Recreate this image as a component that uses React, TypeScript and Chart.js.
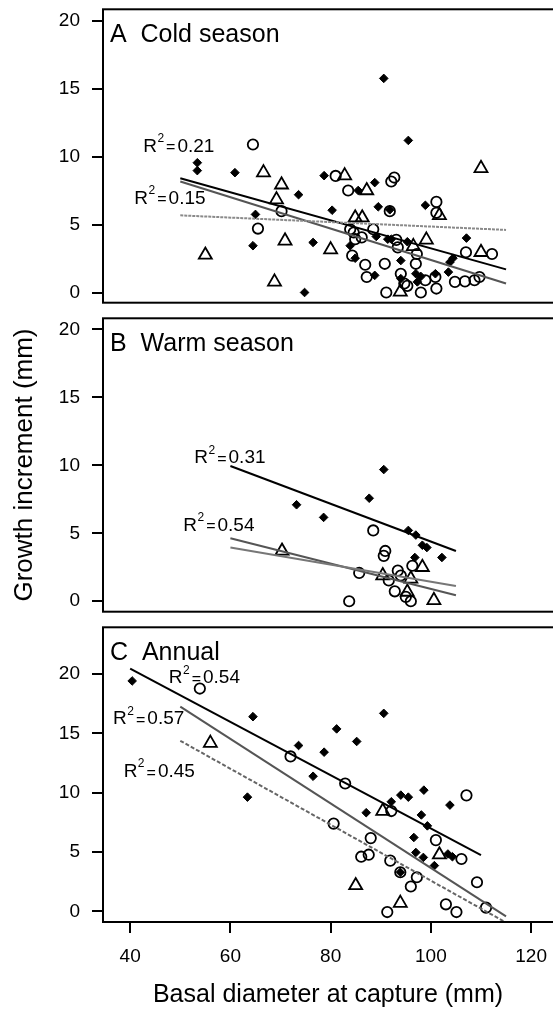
import React, { useEffect, useRef } from 'react';
import { Chart, registerables } from 'chart.js';

Chart.register(...registerables);

const FONT = '"Liberation Sans", Arial, Helvetica, sans-serif';

// ---- axes ----
const xTicks = [40, 60, 80, 100, 120];
const yTicks = [0, 5, 10, 15, 20];
const xRange = [34.58, 131.89];
const xTitle = 'Basal diameter at capture (mm)';
const yTitle = 'Growth increment (mm)';

// ---- Panel A: cold season ----
const coldDiamonds = [
  [53.4, 9.56], [53.4, 8.98], [60.9, 8.83], [65.0, 5.76], [64.5, 3.46], [73.6, 7.21],
  [74.8, 0.02], [76.5, 3.7], [80.3, 6.07], [78.7, 8.61], [85.5, 7.52], [88.8, 8.1],
  [89.5, 6.32], [91.8, 6.1], [90.6, 15.76], [95.5, 11.2], [98.9, 6.43], [107.1, 4.02],
  [89.1, 4.14], [83.9, 3.46], [84.9, 2.54], [88.8, 1.28], [91.4, 3.94], [92.1, 3.94],
  [94.0, 2.37], [95.3, 3.75], [94.0, 1.04], [97.0, 1.4], [97.3, 0.8], [98.0, 1.2],
  [100.9, 1.4], [103.8, 2.25], [104.4, 2.54], [103.5, 1.52],
];
const coldCircles = [
  [64.5, 10.9], [65.5, 4.72], [70.2, 6.0], [81.0, 8.59], [83.5, 7.52], [92.1, 8.18],
  [92.7, 8.47], [91.8, 6.0], [101.1, 6.68], [101.1, 5.88], [83.9, 4.67], [88.5, 4.67],
  [84.6, 4.43], [84.9, 3.94], [86.2, 4.07], [84.3, 2.73], [86.9, 2.06], [87.2, 1.16],
  [90.8, 2.13], [93.1, 3.89], [93.4, 3.34], [97.2, 2.85], [97.0, 2.13], [94.0, 1.4],
  [94.7, 0.68], [95.3, 0.51], [91.1, 0.02], [98.0, 0.02], [98.9, 0.92], [100.9, 1.16],
  [101.1, 0.31], [104.8, 0.8], [106.8, 0.84], [108.7, 0.92], [109.7, 1.16], [107.0, 2.98],
  [112.2, 2.85],
];
const coldTriangles = [
  [55.0, 2.78], [66.6, 8.83], [68.8, 0.8], [70.2, 7.94], [69.2, 6.85], [70.9, 3.82],
  [80.0, 3.17], [82.8, 8.61], [87.2, 7.52], [110.0, 9.15], [101.7, 5.69], [84.9, 5.52],
  [86.3, 5.52], [96.5, 3.41], [99.1, 3.89], [93.9, 0.07], [110.0, 2.98],
];
const coldLineDiamond = [[50, 8.42], [115, 1.72]];
const coldLineCircle = [[50, 8.18], [115, 0.68]];
const coldLineTriangle = [[50, 5.69], [115, 4.62]];
const coldLabelX = [42.6, 40.84];
const coldLabelY = [10.75, 6.93];
const coldLabelText = ['0.21', '0.15'];

// ---- Panel B: warm season ----
const warmDiamonds = [
  [73.2, 7.1], [78.6, 6.17], [87.7, 7.58], [90.6, 9.69], [95.5, 5.21], [97.0, 4.87],
  [98.3, 4.12], [99.2, 3.95], [102.2, 3.22], [96.8, 3.22],
];
const warmCircles = [
  [88.5, 5.21], [90.9, 3.7], [90.6, 3.34], [85.7, 2.08], [83.7, 0.0], [93.4, 2.25],
  [94.0, 1.89], [91.6, 1.53], [92.8, 0.73], [95.0, 0.32], [96.0, 0.0], [96.3, 2.61],
];
const warmTriangles = [
  [70.3, 3.7], [90.4, 1.89], [98.3, 2.5], [96.0, 1.65], [95.3, 0.68], [100.6, 0.07],
];
const warmLineDiamond = [[60, 9.95], [105, 3.7]];
const warmLineCircle = [[60, 4.63], [105, 0.44]];
const warmLineTriangle = [[60, 3.95], [105, 1.12]];
const warmLabelX = [52.8, 50.6];
const warmLabelY = [10.54, 5.58];
const warmLabelText = ['0.31', '0.54'];

// ---- Panel C: annual ----
const annualDiamonds = [
  [40.4, 19.41], [64.5, 16.4], [63.4, 9.62], [73.6, 13.97], [78.7, 13.41], [81.2, 15.37],
  [85.2, 14.31], [90.6, 16.68], [76.5, 11.38], [87.1, 8.31], [92.1, 9.23], [94.0, 9.79],
  [95.5, 9.62], [98.6, 10.21], [98.1, 8.12], [99.3, 7.2], [103.8, 8.95], [96.6, 6.22],
  [97.0, 4.96], [98.5, 4.54], [100.7, 3.85], [103.4, 4.83], [104.3, 4.6], [93.9, 3.29],
];
const annualCircles = [
  [53.9, 18.77], [72.0, 13.05], [82.9, 10.77], [80.6, 7.39], [88.0, 6.17], [86.1, 4.6],
  [87.6, 4.77], [91.9, 4.27], [92.1, 8.45], [93.9, 3.29], [97.2, 2.87], [96.0, 2.09],
  [101.0, 6.0], [106.1, 4.41], [107.1, 9.77], [109.2, 2.45], [103.0, 0.59], [105.1, -0.06],
  [111.0, 0.31], [91.3, -0.06],
];
const annualTriangles = [
  [56.0, 14.17], [90.4, 8.45], [101.7, 4.77], [85.0, 2.18], [93.9, 0.69],
];
const annualLineDiamond = [[40, 20.45], [110, 4.74]];
const annualLineCircle = [[50, 17.24], [115, -0.42]];
const annualLineTriangle = [[50, 14.37], [115, -0.95]];
const annualLabelX = [47.7, 36.6, 38.7];
const annualLabelY = [19.68, 16.19, 11.77];
const annualLabelText = ['0.54', '0.57', '0.45'];

const toXY = (arr: number[][]) => arr.map(([x, y]) => ({ x, y }));
const toLabels = (xs: number[], ys: number[], ts: string[]) =>
  xs.map((x, i) => ({ x, y: ys[i], text: ts[i] }));

const panels = [
  {
    key: 'A', title: 'A  Cold season', top: 0, height: 312, yMin: -0.73, yMax: 20.84,
    diamonds: coldDiamonds, circles: coldCircles, triangles: coldTriangles,
    lines: [
      { pts: coldLineTriangle, color: '#8a8a8a', dash: [3, 1] },
      { pts: coldLineCircle, color: '#555555', dash: [] },
      { pts: coldLineDiamond, color: '#000000', dash: [] },
    ],
    labels: toLabels(coldLabelX, coldLabelY, coldLabelText),
    showX: false, showYTitle: false,
  },
  {
    key: 'B', title: 'B  Warm season', top: 309, height: 312, yMin: -0.77, yMax: 20.82,
    diamonds: warmDiamonds, circles: warmCircles, triangles: warmTriangles,
    lines: [
      { pts: warmLineTriangle, color: '#777777', dash: [] },
      { pts: warmLineCircle, color: '#555555', dash: [] },
      { pts: warmLineDiamond, color: '#000000', dash: [] },
    ],
    labels: toLabels(warmLabelX, warmLabelY, warmLabelText),
    showX: false, showYTitle: true,
  },
  {
    key: 'C', title: 'C  Annual', top: 618, height: 393, yMin: -0.9, yMax: 23.93,
    diamonds: annualDiamonds, circles: annualCircles, triangles: annualTriangles,
    lines: [
      { pts: annualLineTriangle, color: '#666666', dash: [4, 2] },
      { pts: annualLineCircle, color: '#555555', dash: [] },
      { pts: annualLineDiamond, color: '#000000', dash: [] },
    ],
    labels: toLabels(annualLabelX, annualLabelY, annualLabelText),
    showX: true, showYTitle: false,
  },
];

const CANVAS_W = 600;
const VIEW_W = 553;

const decorPlugin = {
  id: 'decor',
  afterDatasetsDraw(chart: any, _args: any, opts: any) {
    const { ctx, chartArea: a, scales } = chart;
    ctx.save();
    ctx.strokeStyle = '#000';
    ctx.lineWidth = 2;
    ctx.strokeRect(a.left, a.top, a.right - a.left, a.bottom - a.top);
    ctx.fillStyle = '#000';
    ctx.textAlign = 'left';
    ctx.textBaseline = 'alphabetic';
    ctx.font = `25px ${FONT}`;
    ctx.fillText(opts.title, a.left + 7, a.top + 33);
    for (const l of opts.labels) {
      const px = scales.x.getPixelForValue(l.x);
      const py = scales.y.getPixelForValue(l.y);
      ctx.textAlign = 'left';
      ctx.textBaseline = 'middle';
      ctx.font = `19px ${FONT}`;
      ctx.fillText('R', px, py);
      let cx = px + ctx.measureText('R').width + 0.5;
      ctx.font = `12px ${FONT}`;
      ctx.fillText('2', cx, py - 7.5);
      cx += ctx.measureText('2').width + 2;
      ctx.font = `16px ${FONT}`;
      ctx.fillText('=', cx, py + 1.5);
      cx += ctx.measureText('=').width + 2;
      ctx.font = `19px ${FONT}`;
      ctx.fillText(l.text, cx, py);
    }
    if (opts.showX) {
      ctx.font = `25px ${FONT}`;
      ctx.textAlign = 'center';
      ctx.textBaseline = 'middle';
      ctx.fillText(xTitle, (a.left + VIEW_W) / 2, chart.height - 16);
    }
    ctx.restore();
  },
};

function Panel({ p }: { p: any }) {
  const ref = useRef<HTMLCanvasElement | null>(null);
  useEffect(() => {
    if (!ref.current) return;
    const datasets: any[] = [
      ...p.lines.map((l: any) => ({
        data: toXY(l.pts),
        showLine: true,
        borderColor: l.color,
        borderWidth: 2,
        borderDash: l.dash,
        pointRadius: 0,
        fill: false,
      })),
      {
        data: toXY(p.triangles), pointStyle: 'triangle', pointRadius: 7.5,
        borderColor: '#000', borderWidth: 1.8, backgroundColor: 'rgba(0,0,0,0)',
      },
      {
        data: toXY(p.circles), pointStyle: 'circle', pointRadius: 5.2,
        borderColor: '#000', borderWidth: 1.8, backgroundColor: 'rgba(0,0,0,0)',
      },
      {
        data: toXY(p.diamonds), pointStyle: 'rectRot', pointRadius: 4.3,
        borderColor: '#000', borderWidth: 1, backgroundColor: '#000',
      },
    ];
    const chart = new Chart(ref.current, {
      type: 'scatter',
      data: { datasets },
      plugins: [decorPlugin],
      options: {
        animation: false,
        responsive: false,
        events: [],
        layout: { padding: { top: 7, bottom: p.showX ? 0 : 8, left: 0, right: 0 } },
        plugins: {
          legend: { display: false },
          tooltip: { enabled: false },
          decor: { title: p.title, labels: p.labels, showX: p.showX },
        } as any,
        scales: {
          x: {
            type: 'linear',
            min: xRange[0],
            max: xRange[1],
            display: p.showX,
            afterBuildTicks: (ax: any) => { ax.ticks = xTicks.map((v) => ({ value: v })); },
            afterFit: (ax: any) => {
              if (p.showX) ax.height = 89;
              ax.paddingLeft = 0;
              ax.paddingRight = 0;
            },
            ticks: { font: { family: FONT, size: 19 }, color: '#000', padding: 12, maxRotation: 0, autoSkip: false },
            grid: { drawOnChartArea: false, drawTicks: true, tickLength: 11, color: '#000', lineWidth: 2 },
            border: { display: false },
            title: { display: false },
          },
          y: {
            type: 'linear',
            min: p.yMin,
            max: p.yMax,
            afterBuildTicks: (ax: any) => { ax.ticks = yTicks.map((v) => ({ value: v })); },
            afterFit: (ax: any) => {
              ax.width = 103;
              ax.paddingTop = 0;
              ax.paddingBottom = 0;
            },
            ticks: { font: { family: FONT, size: 19 }, color: '#000', padding: 12 },
            grid: { drawOnChartArea: false, drawTicks: true, tickLength: 11, color: '#000', lineWidth: 2 },
            border: { display: false },
            title: {
              display: p.showYTitle, text: yTitle, color: '#000',
              font: { family: FONT, size: 26 }, padding: { top: 9, bottom: 0 },
            },
          },
        },
      } as any,
    });
    return () => chart.destroy();
  }, [p]);
  return (
    <canvas
      ref={ref}
      width={CANVAS_W}
      height={p.height}
      style={{ position: 'absolute', left: 0, top: p.top, width: CANVAS_W, height: p.height }}
    />
  );
}

export default function App() {
  return (
    <div
      style={{
        position: 'absolute', left: 0, top: 0, width: VIEW_W, height: 1011,
        overflow: 'hidden', background: '#fff',
      }}
    >
      {panels.map((p) => (
        <Panel key={p.key} p={p} />
      ))}
    </div>
  );
}
